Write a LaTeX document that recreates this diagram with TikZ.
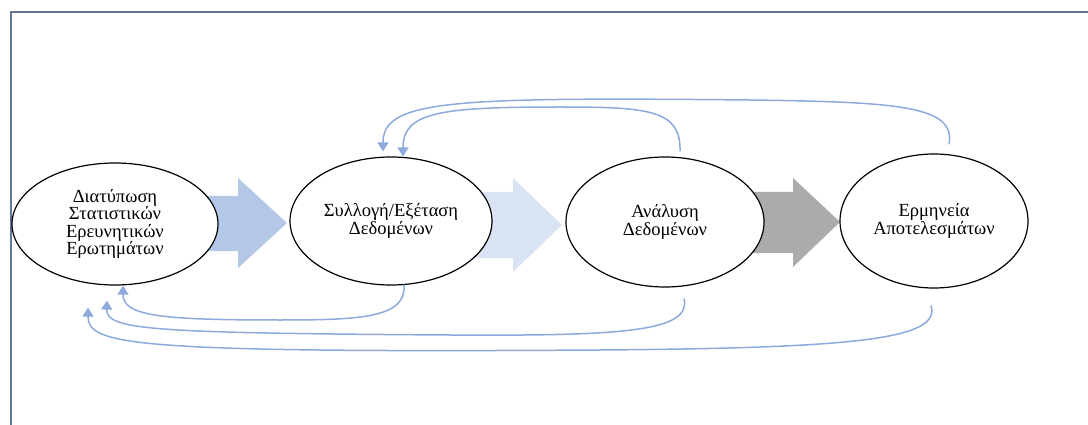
\documentclass[tikz,border=0pt]{standalone}
\usepackage{fontspec}
\setmainfont{Liberation Serif}
\usetikzlibrary{shapes.geometric,arrows.meta}

\definecolor{framecol}{HTML}{64779A}
\definecolor{loopcol}{HTML}{8EA9DB}
\definecolor{blockA}{HTML}{B4C7E7}
\definecolor{blockB}{HTML}{DAE3F3}
\definecolor{blockC}{HTML}{ABABAB}

\tikzset{
  stage/.style={ellipse, draw=black, line width=1.2pt, fill=white, inner sep=0pt,
    align=center, font=\fontsize{18.5}{17.5}\selectfont},
  loop/.style={draw=loopcol, line width=1.5pt,
    -{Triangle[width=11pt,length=9pt]}}
}

\begin{document}
\begin{tikzpicture}[x=1pt,y=-1pt]
\useasboundingbox (0,0) rectangle (1088,425);

% page frame
\draw[framecol, line width=1.8pt] (11,425) -- (11,12) -- (1088,12);

% block arrows between the stages
\fill[blockA] (170,196) -- (238,196) -- (238,178) -- (287,223) -- (238,268) -- (238,251) -- (170,251) -- cycle;
\fill[blockB] (450,192) -- (513,192) -- (513,178) -- (562,225) -- (513,272) -- (513,258) -- (450,258) -- cycle;
\fill[blockC] (730,192) -- (793,192) -- (793,178) -- (840,222) -- (793,267) -- (793,253) -- (730,253) -- cycle;

% stages
\node[stage, minimum width=206pt, minimum height=122pt] (e1) at (115,224)
  {Διατύπωση\\Στατιστικών\\Ερευνητικών\\Ερωτημάτων};
\node[stage, minimum width=202pt, minimum height=128pt] (e2) at (391,221)
  {Συλλογή/Εξέταση\\Δεδομένων};
\node[stage, minimum width=198pt, minimum height=130pt] (e3) at (665,222)
  {Ανάλυση\\Δεδομένων};
\node[stage, minimum width=188pt, minimum height=134pt] (e4) at (934,221)
  {Ερμηνεία\\Αποτελεσμάτων};

% feedback loops over the top
\draw[loop] ([xshift=15pt,yshift=5pt]e3.north)
  .. controls (681,110) and (650,107) .. (560,107)
  .. controls (440,107) and (403,112) .. ([xshift=12pt]e2.north);
\draw[loop] ([xshift=15pt,yshift=9pt]e4.north)
  .. controls (956,106) and (900,102) .. (750,100)
  .. controls (450,97) and (383,100) .. ([xshift=-8pt,yshift=5pt]e2.north);

% feedback loops underneath
\draw[loop] ([xshift=13pt,yshift=1pt]e2.south)
  .. controls (407,318) and (360,320) .. (280,320)
  .. controls (160,320) and (123,316) .. ([xshift=8pt]e1.south);
\draw[loop] ([xshift=19pt,yshift=-11pt]e3.south)
  .. controls (692,332) and (620,336) .. (450,335)
  .. controls (150,333) and (106,330) .. ([xshift=-8pt,yshift=-15pt]e1.south);
\draw[loop] ([xshift=-3pt,yshift=-17pt]e4.south)
  .. controls (942,340) and (850,348) .. (600,350)
  .. controls (130,353) and (88,345) .. ([xshift=-27pt,yshift=-22pt]e1.south);
\end{tikzpicture}
\end{document}
